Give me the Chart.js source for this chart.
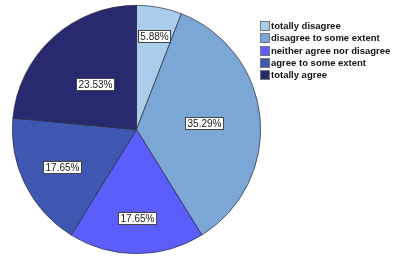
<!DOCTYPE html>
<html>
<head>
<meta charset="utf-8">
<script src="https://cdn.jsdelivr.net/npm/chart.js@4.4.1/dist/chart.umd.min.js"></script>
<style>
  html, body { margin: 0; padding: 0; background: #fff; }
  #wrap { width: 396px; height: 257px; }
</style>
</head>
<body>
<div id="wrap"><canvas id="pieChart" width="396" height="257"></canvas></div>
<script>
// Données
const categories = ['totally disagree', 'disagree to some extent', 'neither agree nor disagree', 'agree to some extent', 'totally agree'];
const percentages = [5.88, 35.29, 17.65, 17.65, 23.53];
const sliceColors = ['#a9cdeb', '#7ba7d7', '#5b5dfd', '#3e57b1', '#272a6f'];
// Distance des étiquettes au centre (fraction du rayon)
const labelRadius = [0.77, 0.55, 0.71, 0.67, 0.5];

// Étiquettes dans les parts (boîte blanche)
const sliceLabels = {
  id: 'sliceLabels',
  afterDatasetsDraw(chart) {
    const ctx = chart.ctx;
    const meta = chart.getDatasetMeta(0);
    ctx.save();
    ctx.font = '10px "Liberation Sans", Arial, sans-serif';
    ctx.textBaseline = 'middle';
    ctx.textAlign = 'center';
    meta.data.forEach((arc, i) => {
      const mid = (arc.startAngle + arc.endAngle) / 2;
      const r = arc.outerRadius * labelRadius[i];
      const x = arc.x + Math.cos(mid) * r;
      const y = arc.y + Math.sin(mid) * r;
      const txt = percentages[i].toFixed(2) + '%';
      const w = Math.round(ctx.measureText(txt).width + 4);
      const h = 12;
      const bx = Math.round(x - w / 2) + 0.5;
      const by = Math.round(y - h / 2) + 0.5;
      ctx.fillStyle = '#fff';
      ctx.fillRect(bx, by, w, h);
      ctx.strokeStyle = '#444';
      ctx.lineWidth = 1;
      ctx.strokeRect(bx, by, w, h);
      ctx.fillStyle = '#222';
      ctx.fillText(txt, bx + w / 2, by + h / 2 + 0.5);
    });
    ctx.restore();
  }
};

// Légende à droite
const sideLegend = {
  id: 'sideLegend',
  afterDraw(chart) {
    const ctx = chart.ctx;
    ctx.save();
    ctx.font = 'bold 9.5px "Liberation Sans", Arial, sans-serif';
    ctx.textBaseline = 'middle';
    ctx.textAlign = 'left';
    categories.forEach((label, i) => {
      const y = Math.round(21 + i * 12.3);
      ctx.fillStyle = sliceColors[i];
      ctx.fillRect(260.5, y + 0.5, 9, 9);
      ctx.strokeStyle = '#777';
      ctx.lineWidth = 1;
      ctx.strokeRect(260.5, y + 0.5, 9, 9);
      ctx.fillStyle = '#111';
      ctx.fillText(label, 271, y + 5);
    });
    ctx.restore();
  }
};

const ctx = document.getElementById('pieChart').getContext('2d');
new Chart(ctx, {
  type: 'pie',
  data: {
    labels: categories,
    datasets: [{
      data: percentages,
      backgroundColor: sliceColors,
      borderColor: '#2a2a3a',
      borderWidth: 0.7
    }]
  },
  options: {
    responsive: false,
    animation: false,
    layout: { padding: { left: 12, right: 135, top: 5, bottom: 3 } },
    plugins: {
      legend: { display: false },
      tooltip: { enabled: false }
    }
  },
  plugins: [sliceLabels, sideLegend]
});
</script>
</body>
</html>
